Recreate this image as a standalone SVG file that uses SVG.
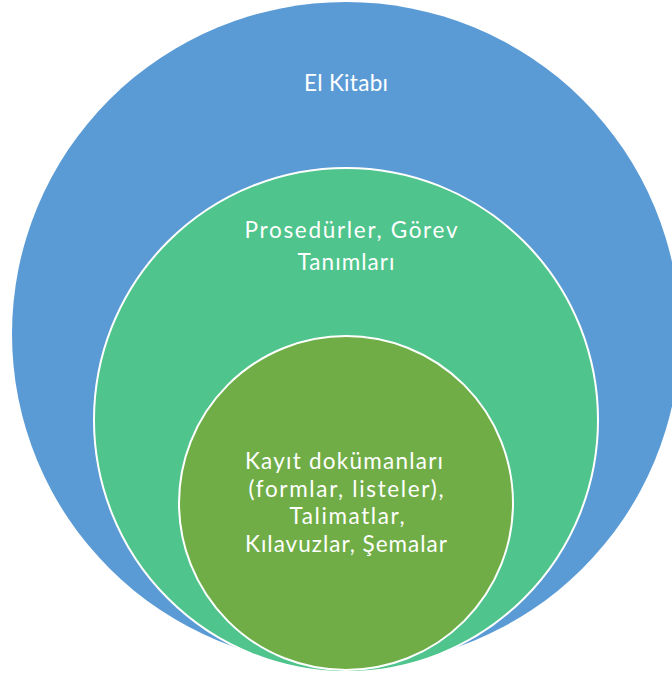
<svg xmlns="http://www.w3.org/2000/svg" width="672" height="675" viewBox="0 0 672 675">
<style>
.lbl{font-family:Lato,"Open Sans","Liberation Sans",sans-serif;font-size:22.5px;fill:#ffffff;text-anchor:middle}
.ring{stroke:#ffffff;stroke-width:2}
</style>
<rect width="672" height="675" fill="#ffffff"/>
<g id="el-kitabi">
<ellipse cx="346" cy="334" rx="334" ry="332" fill="#5B9BD5"/>
<text class="lbl" x="346" y="91" textLength="84">El Kitabı</text>
</g>
<g id="prosedurler">
<circle class="ring" cx="346" cy="420" r="252" fill="#4FC48C"/>
<text class="lbl" x="351" y="238" textLength="213">Prosedürler, Görev</text>
<text class="lbl" x="346" y="270" textLength="97">Tanımları</text>
</g>
<g id="kayit">
<circle class="ring" cx="346" cy="503" r="167" fill="#70AD47"/>
<text class="lbl" x="344" y="469" textLength="198">Kayıt dokümanları</text>
<text class="lbl" x="346" y="497" textLength="195">(formlar, listeler),</text>
<text class="lbl" x="347" y="524" textLength="115">Talimatlar,</text>
<text class="lbl" x="346" y="552" textLength="202">Kılavuzlar, Şemalar</text>
</g>
<g id="connectors"></g>
</svg>
